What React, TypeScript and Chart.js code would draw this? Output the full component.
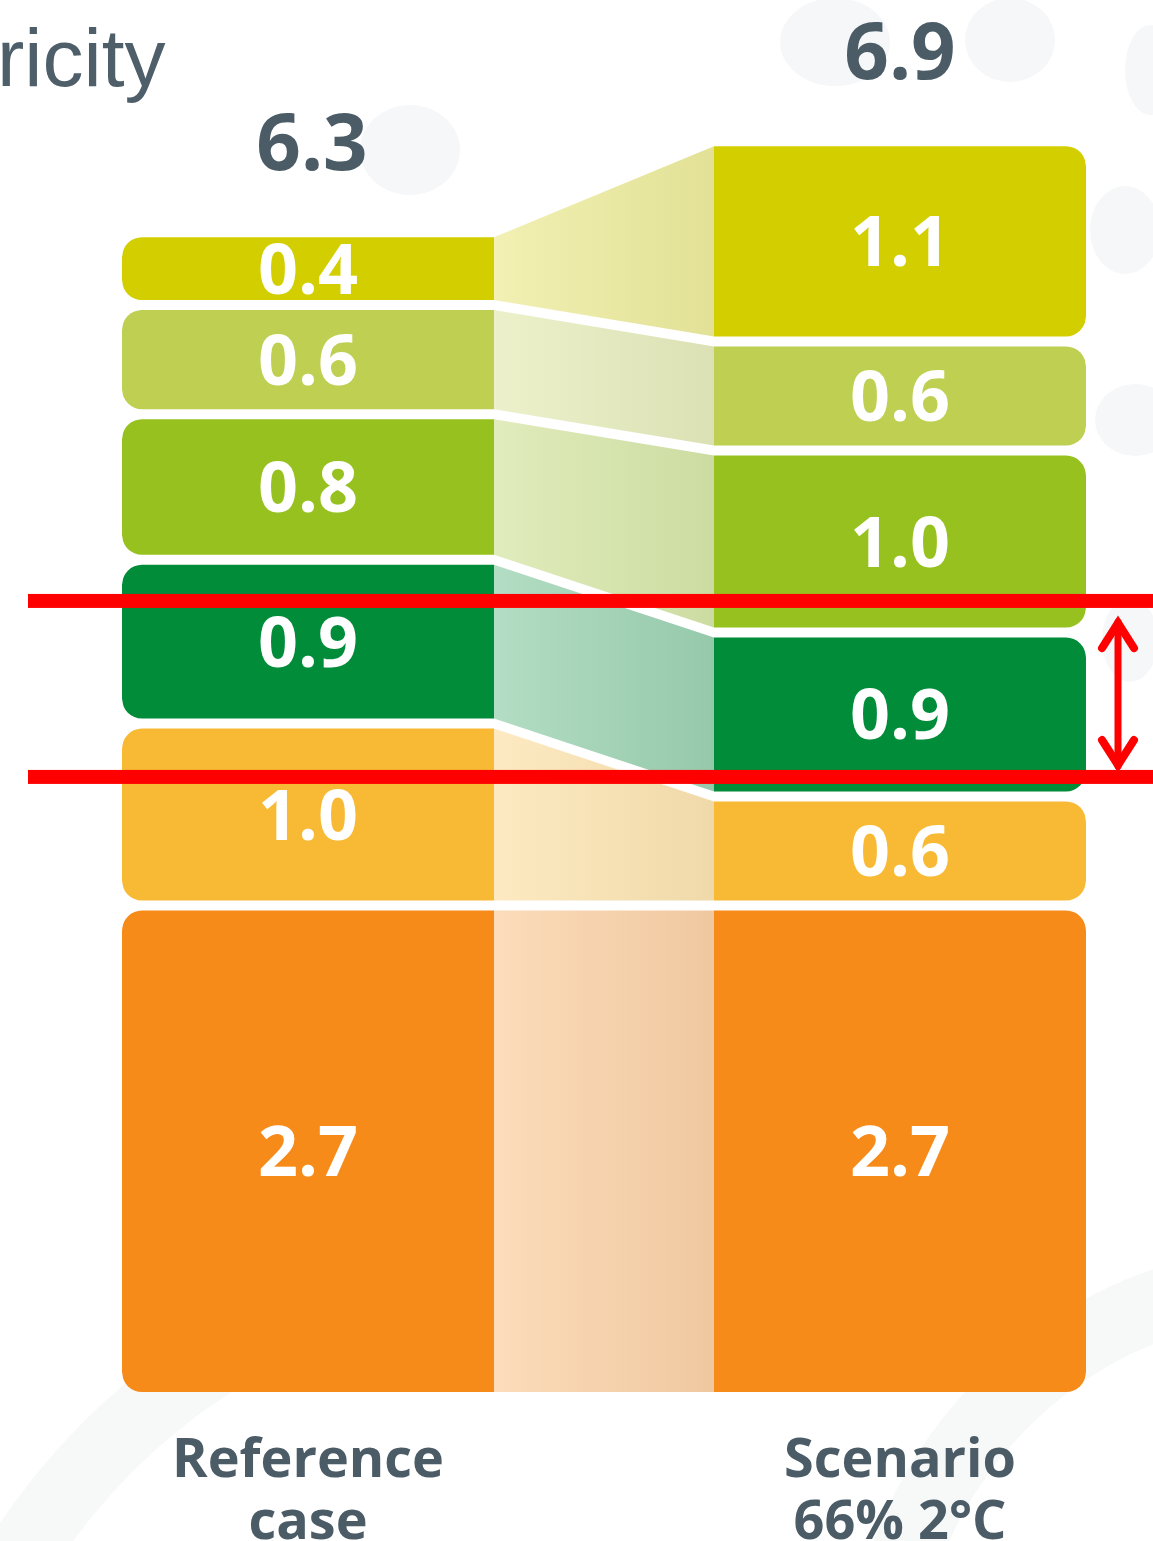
import React, { useEffect, useRef } from "react";
import { Chart, registerables } from "chart.js";

Chart.register(...registerables);

// ---- data (bottom segment first) ----
const categories: string[][] = [["Reference", "case"], ["Scenario", "66% 2°C"]];
const segmentNames = ["Segment A", "Segment B", "Segment C", "Segment D", "Segment E", "Segment F"];
const referenceValues = [2.7, 1.0, 0.9, 0.8, 0.6, 0.4];
const scenarioValues = [2.7, 0.6, 0.9, 1.0, 0.6, 1.1];
const totalLabels = ["6.3", "6.9"];
const segmentColors = ["#F68B1A", "#F8BA35", "#008C39", "#96C11F", "#BFCF52", "#D3CE00"];
const titleText = "ricity";
const markerLevels = [4.374, 3.407];
const arrowLevels = [4.28, 3.445];

const GAP = 5;
const TEXT_DARK = "#4B5C67";

function toRanges(values: number[]): number[][] {
  let acc = 0;
  return values.map((v) => {
    const s = acc;
    acc = Math.round((acc + v) * 100) / 100;
    return [s, acc];
  });
}

function hexToRgb(hex: string): number[] {
  const h = hex.replace("#", "");
  return [parseInt(h.slice(0, 2), 16), parseInt(h.slice(2, 4), 16), parseInt(h.slice(4, 6), 16)];
}

function bandColor(hex: string, a: number, dark: number): string {
  const [r, g, b] = hexToRgb(hex);
  const mix = (c: number) => Math.round((c * a + 255 * (1 - a)) * dark);
  return `rgb(${mix(r)},${mix(g)},${mix(b)})`;
}

const refRanges = toRanges(referenceValues);
const scnRanges = toRanges(scenarioValues);

const backgroundPlugin = {
  id: "bgShapes",
  beforeDraw(chart: any) {
    const ctx = chart.ctx;
    ctx.save();
    ctx.fillStyle = "#F6F7F8";
    const blobs = [
      [410, 150, 50, 45],
      [835, 42, 55, 44],
      [1010, 40, 45, 42],
      [1150, 70, 25, 45],
      [1125, 230, 35, 44],
      [1135, 420, 40, 36],
      [1130, 640, 28, 42],
    ];
    for (const [x, y, rx, ry] of blobs) {
      ctx.beginPath();
      ctx.ellipse(x, y, rx, ry, 0, 0, Math.PI * 2);
      ctx.fill();
    }
    // faint sweeping shapes near the bottom
    ctx.strokeStyle = "#F7F8F8";
    ctx.lineWidth = 70;
    ctx.beginPath();
    ctx.arc(560, 1900, 640, Math.PI * 1.08, Math.PI * 1.62);
    ctx.stroke();
    ctx.beginPath();
    ctx.arc(1300, 1700, 420, Math.PI * 1.05, Math.PI * 1.45);
    ctx.stroke();
    // title fragment
    ctx.fillStyle = "#4E5F6A";
    ctx.font = '82px "Liberation Sans", Arial, sans-serif';
    ctx.textAlign = "left";
    ctx.textBaseline = "alphabetic";
    ctx.fillText(titleText, -3, 86);
    ctx.restore();
  },
};

const bandsPlugin = {
  id: "bands",
  beforeDatasetsDraw(chart: any) {
    const ctx = chart.ctx;
    ctx.save();
    chart.data.datasets.forEach((ds: any, i: number) => {
      const meta = chart.getDatasetMeta(i);
      const a = meta.data[0];
      const b = meta.data[1];
      if (!a || !b) return;
      const x1 = a.x + a.width / 2;
      const x2 = b.x - b.width / 2;
      const aTop = Math.min(a.y, a.base) + GAP;
      const aBot = Math.max(a.y, a.base) - GAP;
      const bTop = Math.min(b.y, b.base) + GAP;
      const bBot = Math.max(b.y, b.base) - GAP;
      const grad = ctx.createLinearGradient(x1, 0, x2, 0);
      grad.addColorStop(0, bandColor(ds.backgroundColor, 0.3, 1));
      grad.addColorStop(1, bandColor(ds.backgroundColor, 0.38, 0.95));
      ctx.fillStyle = grad;
      ctx.beginPath();
      ctx.moveTo(x1, aTop);
      ctx.lineTo(x2, bTop);
      ctx.lineTo(x2, bBot);
      ctx.lineTo(x1, aBot);
      ctx.closePath();
      ctx.fill();
    });
    ctx.restore();
  },
};

const labelsPlugin = {
  id: "labels",
  afterDatasetsDraw(chart: any) {
    const ctx = chart.ctx;
    ctx.save();
    ctx.textAlign = "center";
    ctx.textBaseline = "alphabetic";
    const series = [referenceValues, scenarioValues];
    const n = chart.data.datasets.length;
    for (let i = 0; i < n; i++) {
      const meta = chart.getDatasetMeta(i);
      meta.data.forEach((el: any, j: number) => {
        const cy = (el.y + el.base) / 2;
        ctx.fillStyle = "#FFFFFF";
        ctx.font = 'bold 70px "Open Sans", "DejaVu Sans", sans-serif';
        ctx.fillText(series[j][i].toFixed(1), el.x, cy + 70 * 0.357);
      });
    }
    // totals above the top segment
    const topMeta = chart.getDatasetMeta(n - 1);
    topMeta.data.forEach((el: any, j: number) => {
      const top = Math.min(el.y, el.base) + GAP;
      ctx.fillStyle = TEXT_DARK;
      ctx.font = 'bold 78px "Open Sans", "DejaVu Sans", sans-serif';
      ctx.fillText(totalLabels[j], el.x + (j === 0 ? 4 : 0), top - 95 + 78 * 0.357);
    });
    // category labels
    const xScale = chart.scales.x;
    const yBase = chart.scales.y.getPixelForValue(0);
    categories.forEach((lines, j) => {
      const x = xScale.getPixelForValue(j);
      ctx.fillStyle = TEXT_DARK;
      ctx.font = 'bold 54px "Open Sans", "DejaVu Sans", sans-serif';
      lines.forEach((line, k) => {
        ctx.fillText(line, x, yBase + 80 + k * 62);
      });
    });
    ctx.restore();
  },
};

const annotationPlugin = {
  id: "redMarks",
  afterDraw(chart: any) {
    const ctx = chart.ctx;
    const y = chart.scales.y;
    ctx.save();
    ctx.fillStyle = "#FF0000";
    markerLevels.forEach((lv) => {
      const py = y.getPixelForValue(lv);
      ctx.fillRect(28, py - 7, chart.width - 28, 14);
    });
    const ax = 1118;
    const yTop = y.getPixelForValue(arrowLevels[0]);
    const yBot = y.getPixelForValue(arrowLevels[1]);
    ctx.strokeStyle = "#FF0000";
    ctx.lineWidth = 7;
    ctx.lineCap = "round";
    ctx.lineJoin = "miter";
    ctx.beginPath();
    ctx.moveTo(ax, yTop + 4);
    ctx.lineTo(ax, yBot - 4);
    ctx.stroke();
    ctx.lineWidth = 8;
    ctx.beginPath();
    ctx.moveTo(ax - 16, yTop + 30);
    ctx.lineTo(ax, yTop + 5);
    ctx.lineTo(ax + 16, yTop + 30);
    ctx.stroke();
    ctx.beginPath();
    ctx.moveTo(ax - 16, yBot - 30);
    ctx.lineTo(ax, yBot - 5);
    ctx.lineTo(ax + 16, yBot - 30);
    ctx.stroke();
    ctx.restore();
  },
};

export default function App() {
  const canvasRef = useRef<HTMLCanvasElement | null>(null);

  useEffect(() => {
    if (!canvasRef.current) return;
    const datasets = segmentColors.map((color, i) => ({
      label: segmentNames[i],
      data: [refRanges[i], scnRanges[i]],
      backgroundColor: color,
      borderColor: "rgba(0,0,0,0)",
      borderWidth: { top: GAP, bottom: GAP, left: 0, right: 0 },
      borderSkipped: false,
      borderRadius: (ctx: any) =>
        ctx.dataIndex === 0
          ? { topLeft: 25, bottomLeft: 25, topRight: 0, bottomRight: 0 }
          : { topLeft: 0, bottomLeft: 0, topRight: 25, bottomRight: 25 },
      barThickness: 372,
      inflateAmount: 0,
      clip: false,
    }));

    const chart = new Chart(canvasRef.current, {
      type: "bar",
      data: {
        labels: categories.map((c) => c.join(" ")),
        datasets: datasets as any,
      },
      options: {
        animation: false,
        responsive: false,
        events: [],
        layout: { padding: { left: 308, right: 253, top: 123, bottom: 144 } },
        plugins: {
          legend: { display: false },
          title: { display: false },
          tooltip: { enabled: false },
        },
        scales: {
          x: { type: "category", offset: false, display: false, stacked: true },
          y: { min: 0, max: 7, display: false, stacked: false },
        },
      },
      plugins: [backgroundPlugin, bandsPlugin, labelsPlugin, annotationPlugin],
    });
    return () => chart.destroy();
  }, []);

  return (
    <div style={{ position: "absolute", left: 0, top: 0, width: 1153, height: 1541, background: "#FFFFFF" }}>
      <canvas ref={canvasRef} width={1153} height={1541} style={{ display: "block" }} />
    </div>
  );
}
